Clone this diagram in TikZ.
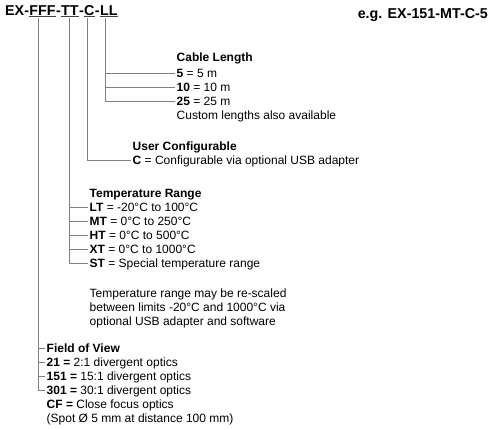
\documentclass[tikz,border=0pt]{standalone}
\usepackage{fontspec}
\setmainfont{Liberation Sans}
\usetikzlibrary{positioning}
\pgfkeys{tikz/code/.style={font=\fontsize{14.3}{16}\selectfont\bfseries,
                                  inner sep=0pt, text depth=1.2pt}}
\pgfkeys{tikz/entry/.style={font=\fontsize{12}{14}\selectfont, anchor=west,
                                  inner xsep=1.5pt, inner ysep=0pt,
                                  text height=8.6pt, text depth=0pt}}
\pgfkeys{tikz/lead/.style={draw=gray, line width=0.9pt}}

\begin{document}
\begin{tikzpicture}[x=1pt, y=-1pt]
                \useasboundingbox (0,0) rectangle (498,429);

                \node[code, anchor=base west] (ex) at (5,15) {EX-};
                \node[code, base right=0pt of ex] (fff) {FFF};
                \node[code, base right=0pt of fff] (h1) {-};
                \node[code, base right=0pt of h1] (tt) {TT};
                \node[code, base right=0pt of tt] (h2) {-};
                \node[code, base right=0pt of h2] (cc) {C};
                \node[code, base right=0pt of cc] (h3) {-};
                \node[code, base right=0pt of h3] (ll) {LL};
                \node[code, anchor=base east] (eg) at (488,18) {e.g. EX-151-MT-C-5};

                \draw[lead, black!75] (fff.south west) -- (fff.south east);
                \draw[lead, black!75] (tt.south west) -- (tt.south east);
                \draw[lead, black!75] (cc.south west) -- (cc.south east);
                \draw[lead, black!75] (ll.south west) -- (ll.south east);

                \coordinate (fffx) at ([xshift=-4pt, yshift=-2pt]fff.south);
                \coordinate (ttx) at ([yshift=-2pt]tt.south);
                \coordinate (ccx) at ([xshift=-1.5pt, yshift=-2pt]cc.south);
                \coordinate (llx) at ([xshift=-3pt, yshift=-2pt]ll.south);

                \node[entry, font=\fontsize{12}{14}\selectfont\bfseries] (len0) at (175,57.5) {Cable Length};
                \node[entry] (len1) at (175,73) {\textbf{5} = 5 m};
                \node[entry] (len2) at (175,87) {\textbf{10} = 10 m};
                \node[entry] (len3) at (175,101) {\textbf{25} = 25 m};
                \node[entry] (len4) at (175,115) {Custom lengths also available};

                \draw[lead] (llx) |- (len3.west);
                \draw[lead] (len1.west) -- (len1.west -| llx);
                \draw[lead] (len2.west) -- (len2.west -| llx);

                \node[entry, font=\fontsize{12}{14}\selectfont\bfseries] (usr0) at (131,146) {User Configurable};
                \node[entry] (usr1) at (131,160) {\textbf{C} = Configurable via optional USB adapter};

                \draw[lead] (ccx) |- (usr1.west);

                \node[entry, font=\fontsize{12}{14}\selectfont\bfseries] (tmp0) at (88,193.5) {Temperature Range};
                \node[entry] (tmp1) at (88,207.5) {\textbf{LT} = -20°C to 100°C};
                \node[entry] (tmp2) at (88,221.5) {\textbf{MT} = 0°C to 250°C};
                \node[entry] (tmp3) at (88,235.5) {\textbf{HT} = 0°C to 500°C};
                \node[entry] (tmp4) at (88,249.5) {\textbf{XT} = 0°C to 1000°C};
                \node[entry] (tmp5) at (88,263.5) {\textbf{ST} = Special temperature range};

                \draw[lead] (ttx) |- (tmp5.west);
                \draw[lead] (tmp1.west) -- (tmp1.west -| ttx);
                \draw[lead] (tmp2.west) -- (tmp2.west -| ttx);
                \draw[lead] (tmp3.west) -- (tmp3.west -| ttx);
                \draw[lead] (tmp4.west) -- (tmp4.west -| ttx);

                \node[entry] (note1) at (88,293) {Temperature range may be re-scaled};
                \node[entry] (note2) at (88,307) {between limits -20°C and 1000°C via};
                \node[entry] (note3) at (88,321) {optional USB adapter and software};

                \node[entry, font=\fontsize{12}{14}\selectfont\bfseries] (fov0) at (45,348) {Field of View};
                \node[entry] (fov1) at (45,362) {\textbf{21 =} 2:1 divergent optics};
                \node[entry] (fov2) at (45,376) {\textbf{151 =} 15:1 divergent optics};
                \node[entry] (fov3) at (45,390) {\textbf{301 =} 30:1 divergent optics};
                \node[entry] (fov4) at (45,404) {\textbf{CF =} Close focus optics};
                \node[entry] (fov5) at (45,418) {(Spot Ø 5 mm at distance 100 mm)};

                \draw[lead] (fffx) |- (fov3.west);
                \draw[lead] (fov0.west) -- (fov0.west -| fffx);
                \draw[lead] (fov1.west) -- (fov1.west -| fffx);
                \draw[lead] (fov2.west) -- (fov2.west -| fffx);

            \end{tikzpicture}
\end{document}
